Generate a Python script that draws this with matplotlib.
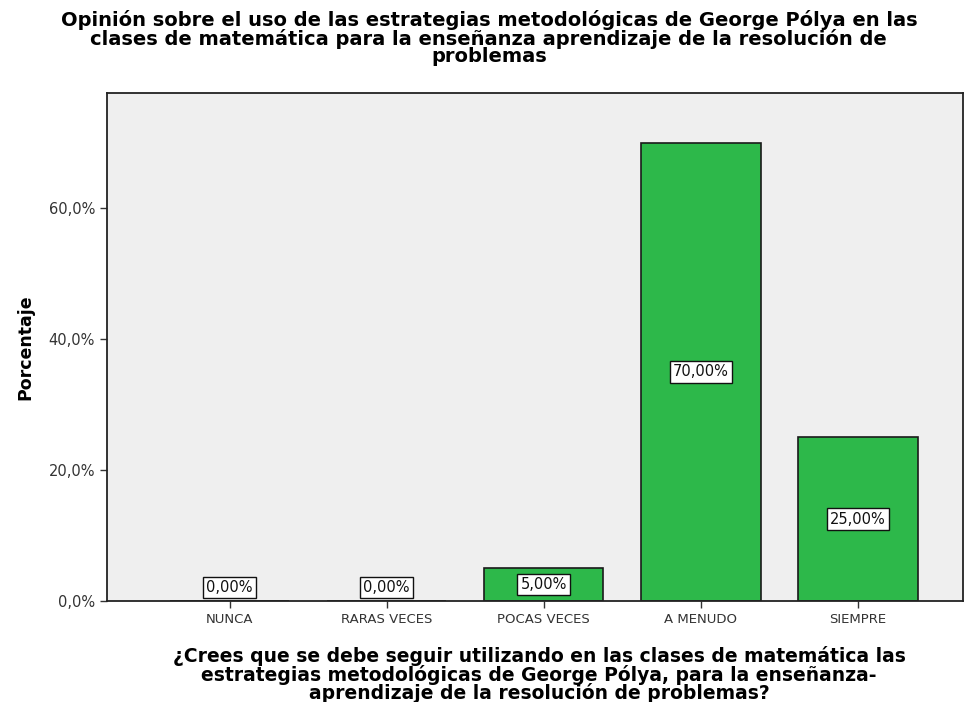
import matplotlib
matplotlib.use('Agg')
import matplotlib.pyplot as plt
import numpy as np

categorias = ["NUNCA", "RARAS VECES", "POCAS VECES", "A MENUDO", "SIEMPRE"]
porcentajes = [0.0, 0.0, 5.0, 70.0, 25.0]
yticks = [0, 20, 40, 60]
ytick_labels = ["0,0%", "20,0%", "40,0%", "60,0%"]

titulo = ("Opinión sobre el uso de las estrategias metodológicas de George Pólya en las\n"
          "clases de matemática para la enseñanza aprendizaje de la resolución de\n"
          "problemas")
xlabel = ("¿Crees que se debe seguir utilizando en las clases de matemática las\n"
          "estrategias metodológicas de George Pólya, para la enseñanza-\n"
          "aprendizaje de la resolución de problemas?")

plt.rcParams['font.family'] = ['DejaVu Sans']

fig = plt.figure(figsize=(9.68, 7.02), dpi=100)
ax = fig.add_axes([0.1105, 0.1439, 0.8845, 0.7236])
ax.set_facecolor('#efefef')

x = np.arange(len(categorias))
ax.bar(x, porcentajes, width=0.76, color='#2db84a', edgecolor='#1a1a1a', linewidth=1.2)

# etiquetas de valor
for xi, v in zip(x, porcentajes):
    ypos = max(v / 2, 2.1)
    ax.text(xi, ypos, f"{v:.2f}%".replace('.', ','), ha='center', va='center',
            fontsize=10.5, color='#111111',
            bbox=dict(boxstyle='square,pad=0.22', fc='white', ec='#111111', lw=1))

ax.set_xlim(-0.78, 4.67)
ax.set_ylim(0, 77.6)
ax.set_xticks(x)
ax.set_xticklabels(categorias, fontsize=9.5, color='#333333')
ax.set_yticks(yticks)
ax.set_yticklabels(ytick_labels, fontsize=10.5, color='#333333')
ax.tick_params(direction='out', length=5, width=1, color='#333333')

for s in ax.spines.values():
    s.set_color('#222222')
    s.set_linewidth(1.3)

ax.set_ylabel("Porcentaje", fontsize=12.5, fontweight='bold', labelpad=10)
fig.text(0.505, 0.986, titulo, ha='center', va='top', fontsize=14,
         fontweight='bold', linespacing=0.92)
fig.text(0.557, 0.08, xlabel, ha='center', va='top', fontsize=13.5,
         fontweight='bold', linespacing=0.92)

fig.savefig('out.png', dpi=100)
